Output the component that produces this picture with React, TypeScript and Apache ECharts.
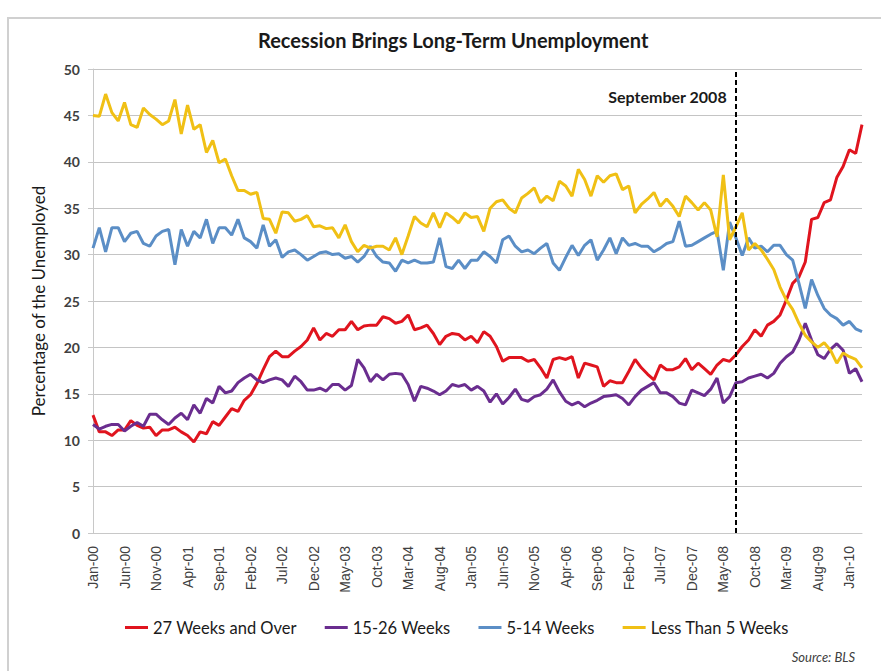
import React, { useEffect, useRef } from "react";
import * as echarts from "echarts";

const monthNames = ["Jan", "Feb", "Mar", "Apr", "May", "Jun", "Jul", "Aug", "Sep", "Oct", "Nov", "Dec"];
const categories: string[] = [];
for (let y = 0; y <= 10; y++) {
  for (let m = 0; m < 12; m++) {
    if (y === 10 && m > 2) break;
    categories.push(`${monthNames[m]}-${String(y).padStart(2, "0")}`);
  }
}

const weeks27Plus = [
  12.7, 10.9, 10.9, 10.5, 11.1, 11.1, 12.1, 11.6, 11.3, 11.4, 10.5, 11.1,
  11.1, 11.4, 10.9, 10.5, 9.8, 10.9, 10.7, 12.0, 11.6, 12.5, 13.4, 13.1,
  14.3, 14.9, 16.1, 17.6, 19.0, 19.6, 19.0, 19.0, 19.6, 20.1, 20.8, 22.1,
  20.8, 21.5, 21.2, 21.9, 21.9, 22.8, 21.9, 22.3, 22.4, 22.4, 23.3, 23.1,
  22.6, 22.8, 23.5, 21.9, 22.1, 22.4, 21.5, 20.3, 21.2, 21.5, 21.4, 20.8,
  21.2, 20.5, 21.7, 21.2, 20.1, 18.5, 18.9, 18.9, 18.9, 18.5, 18.7, 17.8,
  16.7, 18.7, 18.9, 18.7, 19.0, 16.7, 18.3, 18.1, 17.9, 15.8, 16.4, 16.2,
  16.2, 17.4, 18.7, 17.8, 17.1, 16.5, 18.1, 17.6, 17.6, 17.9, 18.8, 17.6,
  18.3, 17.7, 17.1, 18.1, 18.7, 18.5, 19.2, 20.1, 20.8, 21.9, 21.2, 22.4,
  22.8, 23.5, 25.1, 26.9, 27.6, 29.2, 33.8, 34.0, 35.6, 35.9, 38.3, 39.5,
  41.3, 40.9, 44.0,
];

const weeks15to26 = [
  11.7, 11.2, 11.5, 11.7, 11.7, 11.0, 11.5, 11.9, 11.5, 12.8, 12.8, 12.2,
  11.7, 12.4, 12.9, 12.2, 13.8, 12.9, 14.5, 14.0, 15.8, 15.1, 15.3, 16.2,
  16.7, 17.1, 16.5, 16.2, 16.5, 16.7, 16.5, 15.8, 16.9, 16.3, 15.4, 15.4,
  15.6, 15.3, 16.0, 16.0, 15.4, 15.9, 18.7, 17.8, 16.3, 17.1, 16.5, 17.1,
  17.2, 17.1, 16.0, 14.2, 15.8, 15.6, 15.3, 14.9, 15.3, 16.0, 15.8, 16.0,
  15.4, 15.8, 15.3, 14.1, 15.0, 13.9, 14.6, 15.5, 14.4, 14.2, 14.7, 14.9,
  15.5, 16.5, 15.2, 14.2, 13.8, 14.1, 13.6, 14.0, 14.3, 14.7, 14.8, 14.9,
  14.5, 13.8, 14.7, 15.4, 15.8, 16.2, 15.1, 15.1, 14.7, 14.0, 13.8, 15.4,
  15.1, 14.8, 15.5, 16.7, 14.0, 14.7, 16.2, 16.3, 16.7, 16.9, 17.1, 16.7,
  17.2, 18.3, 19.0, 19.5, 20.8, 22.6, 20.8, 19.2, 18.8, 19.8, 20.4, 19.7,
  17.2, 17.7, 16.3,
];

const weeks5to14 = [
  30.7, 32.9, 30.3, 32.9, 32.9, 31.4, 32.3, 32.5, 31.2, 30.9, 32.0, 32.5,
  32.7, 28.9, 32.7, 30.9, 32.5, 31.8, 33.8, 31.2, 32.9, 32.9, 32.1, 33.8,
  31.8, 31.4, 30.7, 33.2, 30.9, 31.6, 29.7, 30.3, 30.5, 30.0, 29.4, 29.8,
  30.2, 30.3, 30.0, 30.1, 29.6, 29.8, 29.2, 29.8, 30.9, 29.8, 29.2, 29.1,
  28.2, 29.4, 29.1, 29.4, 29.1, 29.1, 29.2, 31.8, 28.7, 28.5, 29.4, 28.5,
  29.4, 29.4, 30.3, 29.8, 29.1, 31.6, 32.0, 30.9, 30.3, 30.5, 30.1, 30.7,
  31.2, 29.1, 28.3, 29.7, 31.0, 29.9, 31.0, 31.6, 29.4, 30.5, 31.8, 30.1,
  31.8, 31.0, 31.2, 30.9, 30.9, 30.3, 30.7, 31.2, 31.4, 33.6, 30.9, 31.0,
  31.4, 31.8, 32.2, 32.5, 28.3, 33.5, 31.8, 29.9, 31.8, 30.7, 30.9, 30.3,
  31.0, 31.0, 30.0, 29.4, 26.9, 24.2, 27.3, 25.6, 24.2, 23.5, 23.1, 22.4,
  22.8, 22.0, 21.7,
];

const lessThan5 = [
  45.0, 44.9, 47.3, 45.3, 44.4, 46.4, 44.0, 43.7, 45.8, 45.1, 44.6, 44.0,
  44.4, 46.7, 43.0, 46.1, 43.5, 44.0, 41.0, 42.3, 39.9, 40.3, 38.5, 36.9,
  36.9, 36.5, 36.7, 33.9, 33.8, 32.3, 34.6, 34.5, 33.6, 33.8, 34.2, 33.0,
  33.1, 32.8, 32.9, 31.8, 33.2, 31.4, 30.3, 31.0, 30.7, 30.9, 30.9, 30.5,
  31.8, 30.0, 32.0, 34.1, 33.4, 33.0, 34.5, 32.9, 34.5, 34.0, 33.4, 34.5,
  34.0, 34.1, 32.5, 35.0, 35.7, 35.9, 35.0, 34.5, 36.1, 36.6, 37.2, 35.6,
  36.3, 35.8, 37.9, 37.4, 36.3, 39.2, 38.1, 36.3, 38.5, 37.8, 38.5, 38.7,
  37.0, 37.4, 34.5, 35.4, 36.0, 36.7, 35.2, 36.0, 35.2, 34.1, 36.3, 35.6,
  34.8, 35.6, 34.8, 31.9, 38.6, 31.6, 33.0, 34.5, 30.5, 31.2, 30.5, 29.5,
  28.4, 26.5, 25.1, 24.1, 22.6, 21.3, 20.6, 20.0, 20.5, 19.7, 18.3, 19.4,
  19.0, 18.7, 17.8,
];

const seriesNames = ["27 Weeks and Over", "15-26 Weeks", "5-14 Weeks", "Less Than 5 Weeks"];
const seriesColors = ["#e0141e", "#6a2d8f", "#5b8ec6", "#f0c015"];
const markerCategory = "Jul-08";
const markerLabel = "September 2008";

const FONT = "Lato, 'Open Sans', sans-serif";

export default function App() {
  const ref = useRef<HTMLDivElement>(null);
  useEffect(() => {
    if (!ref.current) return;
    const chart = echarts.init(ref.current, undefined, { renderer: "svg" });
    const dataSets = [weeks27Plus, weeks15to26, weeks5to14, lessThan5];
    chart.setOption({
      animation: false,
      backgroundColor: "#ffffff",
      textStyle: { fontFamily: FONT },
      title: {
        text: "Recession Brings Long-Term Unemployment",
        left: 253,
        top: 25,
        textStyle: { fontFamily: FONT, fontSize: 20, fontWeight: "bold", color: "#1a1a1a" },
      },
      grid: { left: 93, right: 19, top: 69, bottom: 138, containLabel: false },
      legend: {
        bottom: 30,
        left: 120,
        icon: "rect",
        itemWidth: 23,
        itemHeight: 3,
        itemGap: 28,
        textStyle: { fontFamily: FONT, fontSize: 16.5, color: "#1a1a1a" },
        data: seriesNames,
      },
      xAxis: {
        type: "category",
        data: categories,
        boundaryGap: false,
        axisLine: { lineStyle: { color: "#c8c8c8", width: 1 } },
        axisTick: { show: false },
        axisLabel: {
          interval: 4,
          rotate: 90,
          fontFamily: "'Liberation Sans', Arial, sans-serif",
          fontSize: 14,
          color: "#404040",
          margin: 13,
        },
        splitLine: { show: false },
      },
      yAxis: {
        type: "value",
        min: 0,
        max: 50,
        interval: 5,
        name: "Percentage of the Unemployed",
        nameLocation: "middle",
        nameGap: 46,
        nameTextStyle: { fontFamily: FONT, fontSize: 17, color: "#1a1a1a" },
        axisLine: { show: true, lineStyle: { color: "#c8c8c8" } },
        axisTick: { show: true, length: 5, lineStyle: { color: "#c8c8c8" } },
        axisLabel: { fontFamily: FONT, fontSize: 14, fontWeight: "bold", color: "#404040", margin: 13 },
        splitLine: { lineStyle: { color: "#c4c4c4", width: 1 } },
      },
      series: dataSets.map((d, i) => ({
        name: seriesNames[i],
        type: "line",
        data: d,
        showSymbol: false,
        symbol: "none",
        color: seriesColors[i],
        lineStyle: { width: 3, color: seriesColors[i] },
        ...(i === 0
          ? {
              markLine: {
                silent: true,
                symbol: "none",
                label: { show: false },
                lineStyle: { type: [5, 3], color: "#000000", width: 2 },
                data: [{ xAxis: markerCategory }],
              },
            }
          : {}),
      })),
      graphic: [
        {
          type: "text",
          right: 881 - 727,
          top: 88,
          style: { text: markerLabel, font: `bold 16px ${FONT}`, fill: "#1a1a1a" },
        },
        {
          type: "text",
          right: 26,
          top: 650,
          style: { text: "Source: BLS", font: `italic 13px ${FONT}`, fill: "#404040" },
        },
      ],
    });
    return () => chart.dispose();
  }, []);
  return (
    <div
      style={{
        position: "fixed",
        left: 0,
        top: 0,
        width: 881,
        height: 671,
        background: "#fff",
      }}
    >
      <div ref={ref} style={{ position: "absolute", left: 0, top: 0, width: 881, height: 671 }} />
      <div
        style={{
          position: "absolute",
          left: 7,
          top: 17,
          width: 874,
          height: 654,
          borderLeft: "2px solid #d0d0d0",
          borderTop: "2px solid #d0d0d0",
          boxSizing: "border-box",
          pointerEvents: "none",
        }}
      />
    </div>
  );
}
